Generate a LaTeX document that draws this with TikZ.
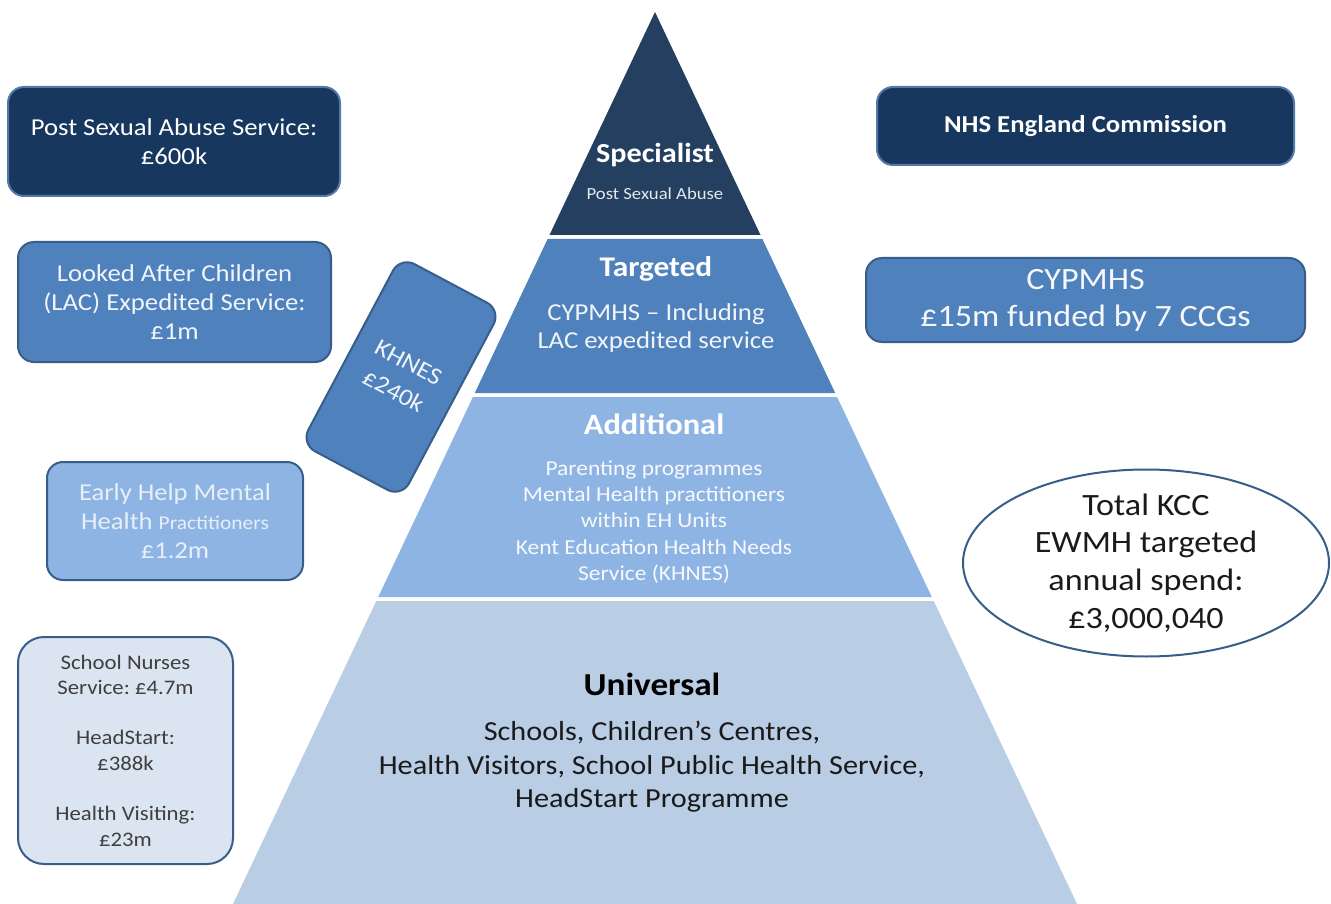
\documentclass[tikz,border=0pt]{standalone}
\usepackage{fontspec}
\setmainfont{Carlito}[FakeStretch=1.1]
\usetikzlibrary{shapes.geometric}
\definecolor{specialist}{HTML}{243F60}
\definecolor{targeted}{HTML}{4F81BD}
\definecolor{additional}{HTML}{8EB4E3}
\definecolor{universal}{HTML}{B9CDE5}
\definecolor{navybox}{HTML}{17375E}
\definecolor{navyedge}{HTML}{5479A8}
\definecolor{edge}{HTML}{385D8A}
\definecolor{palebox}{HTML}{DBE5F1}
\definecolor{ehtext}{HTML}{E8EFF8}
\definecolor{darktext}{HTML}{1A1A1A}
\definecolor{greytext}{HTML}{3F3F3F}
\newcommand\fsz[2]{\fontsize{#1}{#2}\selectfont}
\frenchspacing
\tikzset{
  box/.style={rounded corners=16pt, line width=2pt, align=center, inner sep=0pt},
  band/.style={align=center, inner sep=0pt},
}
\begin{document}
\begin{tikzpicture}[x=1pt, y=-1pt]
\useasboundingbox (0,0) rectangle (1331,904);
% pyramid bands
\fill[specialist] (655,12) -- (760.5,235) -- (549.5,235) -- cycle;
\fill[targeted] (547.6,239) -- (762.4,239) -- (835.2,393) -- (474.8,393) -- cycle;
\fill[additional] (472.9,397) -- (837.1,397) -- (931.8,597) -- (378.2,597) -- cycle;
\fill[universal] (376.3,601) -- (933.7,601) -- (1077,904) -- (233,904) -- cycle;
% pyramid texts
\node[band, text=white, font=\fsz{27.5}{32}\bfseries] (spec) at (655,155) {Specialist};
\node[band, text=white!88!specialist, font=\fsz{17}{21}] (specsub) at (655,194) {Post Sexual Abuse};
\node[band, text=white, font=\fsz{28.5}{33}\bfseries] (targ) at (656,269) {Targeted};
\node[band, text=white!92!targeted, font=\fsz{24.3}{28}] (targsub) at (656,328) {CYPMHS – Including\\LAC expedited service};
\node[band, text=white, font=\fsz{29.5}{34}\bfseries] (add) at (654,424) {Additional};
\node[band, text=white!92!additional, font=\fsz{21.3}{26.2}] (addsub) at (654,522) {Parenting programmes\\Mental Health practitioners\\within EH Units\\Kent Education Health Needs\\Service (KHNES)};
\node[band, text=black, font=\fsz{32}{38}\bfseries] (univ) at (652,684) {Universal};
\node[band, text=darktext, font=\fsz{27.5}{33.5}] (univsub) at (652,767) {Schools, Children’s Centres,\\Health Visitors, School Public Health Service,\\HeadStart Programme};
% left boxes
\node[box, fill=navybox, draw=navyedge, minimum width=332pt, minimum height=109pt, text=white, font=\fsz{24.3}{29}] (psa) at (174,141.5) {Post Sexual Abuse Service:\\£600k};
\node[box, fill=targeted, draw=edge, minimum width=313pt, minimum height=120pt, text=white!92!targeted, font=\fsz{24.3}{29}] (lac) at (174.5,302) {Looked After Children\\(LAC) Expedited Service:\\£1m};
\node[box, fill=targeted, draw=edge, rotate=-28, minimum width=114pt, minimum height=212pt, text=white!92!targeted, font=\fsz{24}{32}] (khnes) at (401,377) {KHNES\\£240k};
\node[box, fill=additional, draw=edge, minimum width=256pt, minimum height=118pt, text=ehtext, font=\fsz{24.2}{29}] (eh) at (175,521) {Early Help Mental\\Health {\fsz{19.5}{29}Practitioners}\\£1.2m};
\node[box, rounded corners=26pt, fill=palebox, draw=edge, minimum width=215pt, minimum height=227pt, text=greytext, font=\fsz{20.7}{25.3}] (sn) at (125.5,750.5) {School Nurses\\Service: £4.7m\\[25.3pt]HeadStart:\\£388k\\[25.3pt]Health Visiting:\\£23m};
% right boxes
\node[box, fill=navybox, draw=navyedge, minimum width=417pt, minimum height=78pt, text=white, font=\fsz{24.3}{29}\bfseries] (nhs) at (1085.5,126) {NHS England Commission};
\node[box, fill=targeted, draw=edge, minimum width=439pt, minimum height=84pt, text=white!94!targeted, font=\fsz{31}{37}] (cyp) at (1085.5,300) {CYPMHS\\£15m funded by 7 CCGs};
\node[ellipse, draw=edge, line width=2pt, fill=white, inner sep=-6pt, minimum width=366pt, minimum height=187pt, align=center, text=darktext, font=\fsz{31}{37.7}] (total) at (1146,563) {Total KCC\\EWMH targeted\\annual spend:\\£3,000,040};
\end{tikzpicture}
\end{document}
